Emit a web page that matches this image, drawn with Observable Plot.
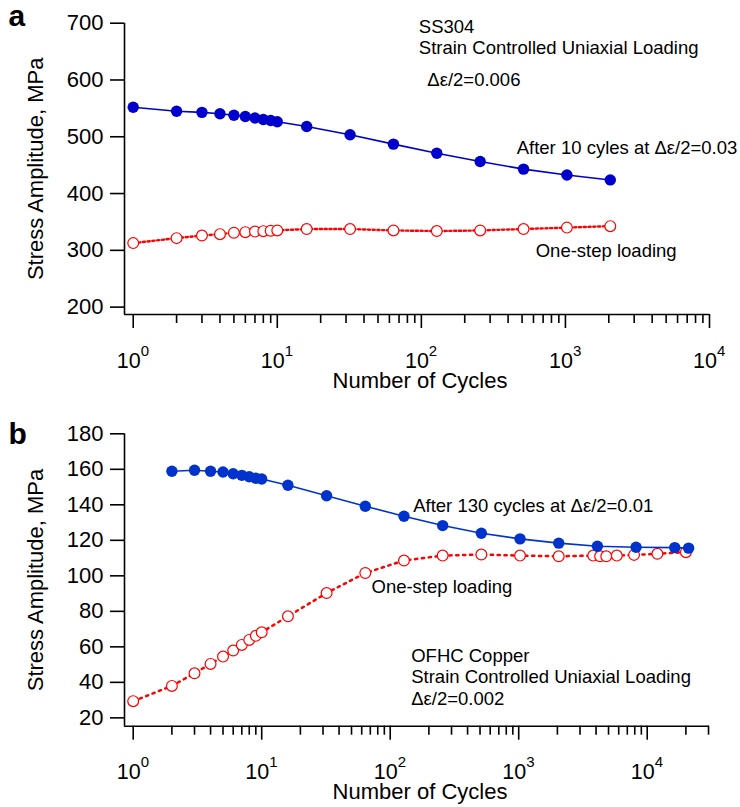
<!DOCTYPE html>
<html>
<head>
<meta charset="utf-8">
<script src="https://cdn.jsdelivr.net/npm/d3@7"></script>
<script src="https://cdn.jsdelivr.net/npm/@observablehq/plot@0.6"></script>
<style>
  html, body { margin: 0; padding: 0; background: white; }
  #chart { width: 740px; }
  #chart svg { display: block; }
</style>
</head>
<body>
<div id="chart"></div>
<script>
// ---------- Panel a: SS304 ----------
const cyclesA = [1, 2, 3, 4, 5, 6, 7, 8, 9, 10, 16, 32, 64, 128, 256, 512, 1024, 2048];
const afterA = [552, 545, 543, 540.5, 538, 535.7, 533, 530.5, 528.7, 526.4, 518, 503.5, 487, 471, 456.5, 443, 432.6, 424];
const oneStepA = [312.7, 321.5, 326, 328.5, 331, 332, 333, 333.8, 334.5, 335, 337.5, 337.5, 335, 334, 335, 337.5, 340, 342.6];
const yTicksA = [200, 300, 400, 500, 600, 700];

// ---------- Panel b: OFHC Copper ----------
const cyclesAfterB = [2, 3, 4, 5, 6, 7, 8, 9, 10, 16, 32, 64, 128, 256, 512, 1024, 2048, 4096, 8192, 16384, 21000];
const afterB = [158.9, 159.5, 158.9, 158.5, 157.5, 156.6, 155.8, 155, 154.5, 151, 145.1, 139.2, 133.6, 128.3, 124, 120.8, 118.4, 116.7, 116.1, 115.9, 115.6];
const cyclesOneStepB = [1, 2, 3, 4, 5, 6, 7, 8, 9, 10, 16, 32, 64, 128, 256, 512, 1024, 2048, 3800, 4300, 4800, 5800, 7900, 12000, 20000];
const oneStepB = [29.4, 38, 45.1, 50.4, 54.5, 57.9, 61.1, 63.9, 66.2, 68.2, 77.2, 90.3, 101.6, 108.6, 111.4, 112, 111.4, 111, 111.4, 111, 111, 111.4, 111.8, 112.4, 113.3];
const yTicksB = [20, 40, 60, 80, 100, 120, 140, 160, 180];

const decades = [1, 10, 100, 1000, 10000];
const xTitle = "Number of Cycles";
const yTitle = "Stress Amplitude, MPa";

const FONT = "'Liberation Sans', Arial, Helvetica, sans-serif";

function minorTicks(max) {
  const out = [];
  for (let p = 0; p <= 4; p++) for (let m = 2; m <= 9; m++) {
    const v = m * Math.pow(10, p);
    if (v <= max) out.push(v);
  }
  return out;
}

function note(text, x, y, extra = {}) {
  return Plot.text([text], {x, y, text: d => d, textAnchor: "start", lineAnchor: "bottom",
    fontSize: 18.5, fill: "black", ...extra});
}

function panel(cfg) {
  const xMin = cfg.xDomain[0], xMax = cfg.xDomain[1];
  const yMin = cfg.yDomain[0];
  return Plot.plot({
    width: 740,
    height: cfg.height,
    marginLeft: 124,
    marginRight: 31,
    marginTop: cfg.marginTop,
    marginBottom: cfg.marginBottom,
    style: {fontFamily: FONT, background: "white", color: "black", overflow: "visible"},
    x: {type: "log", domain: cfg.xDomain},
    y: {domain: cfg.yDomain},
    marks: [
      // axis lines (left and bottom)
      Plot.ruleX([xMin], {stroke: "black", strokeWidth: 1.6}),
      Plot.ruleY([yMin], {stroke: "black", strokeWidth: 1.6}),
      // y axis
      Plot.axisY({ticks: cfg.yTicks, tickSize: 14, tickPadding: 7, fontSize: 22, strokeWidth: 1.6,
        tickFormat: d => String(d), label: null}),
      // x axis major & minor ticks
      Plot.axisX({ticks: decades, tickSize: 14, strokeWidth: 1.6, tickFormat: () => "", label: null}),
      Plot.axisX({ticks: minorTicks(xMax), tickSize: 9, strokeWidth: 1.6, tickFormat: () => "", label: null}),
      // x tick labels 10^n
      Plot.text(decades, {x: d => d, text: () => "10", frameAnchor: "bottom", textAnchor: "end",
        lineAnchor: "bottom", dx: 7.5, dy: 53, fontSize: 21.5}),
      Plot.text(decades, {x: d => d, text: d => String(Math.round(Math.log10(d))), frameAnchor: "bottom",
        textAnchor: "start", lineAnchor: "bottom", dx: 7.5, dy: 41, fontSize: 15}),
      // axis titles
      Plot.text([xTitle], {text: d => d, frameAnchor: "bottom", textAnchor: "middle", lineAnchor: "bottom",
        dx: 3, dy: cfg.xTitleDy, fontSize: 22}),
      Plot.text([yTitle], {text: d => d, frameAnchor: "left", textAnchor: "middle", rotate: -90,
        lineAnchor: "middle", dx: -89, fontSize: 22}),
      // panel letter
      Plot.text([cfg.letter], {text: d => d, frameAnchor: "top-left", textAnchor: "start", lineAnchor: "bottom",
        dx: -116, dy: cfg.letterDy, fontSize: 30, fontWeight: "bold"}),
      // one-step loading (red, dotted, open circles)
      Plot.line(cfg.oneY, {x: cfg.oneX, y: cfg.oneY, stroke: "#ff0000", strokeWidth: cfg.dotW,
        strokeDasharray: cfg.dash, curve: "linear"}),
      Plot.dot(cfg.oneY, {x: cfg.oneX, y: cfg.oneY, r: 5.4, fill: "white", stroke: "#ff0000", strokeWidth: 1.2}),
      // after pre-cycling (blue, solid, filled circles)
      Plot.line(cfg.afterY, {x: cfg.afterX, y: cfg.afterY, stroke: cfg.blue, strokeWidth: 1.6}),
      Plot.dot(cfg.afterY, {x: cfg.afterX, y: cfg.afterY, r: 5.7, fill: cfg.blue, stroke: "none"}),
      ...cfg.notes
    ]
  });
}

const chartA = panel({
  letter: "a",
  height: 400, marginTop: 22.7, marginBottom: 86,
  xDomain: [0.870, 10000], yDomain: [187, 700], yTicks: yTicksA,
  xTitleDy: 73, letterDy: 2.5,
  oneX: cyclesA, oneY: oneStepA, afterX: cyclesA, afterY: afterA,
  blue: "#0000cc", dotW: 2.4, dash: "2.2,2.6",
  notes: [
    note("SS304", 96, 682),
    note("Strain Controlled Uniaxial Loading", 96, 646),
    note("Δε/2=0.006", 110, 590),
    note("After 10 cyles at Δε/2=0.03", 459, 470),
    note("One-step loading", 622, 289)
  ]
});

const chartB = panel({
  letter: "b",
  height: 407, marginTop: 33.3, marginBottom: 81.3,
  xDomain: [0.8556, 30530], yDomain: [15.3, 180], yTicks: yTicksB,
  xTitleDy: 73, letterDy: 9.7,
  oneX: cyclesOneStepB, oneY: oneStepB, afterX: cyclesAfterB, afterY: afterB,
  blue: "#0033cc", dotW: 2.5, dash: "2.3,4.6",
  notes: [
    note("After 130 cycles at Δε/2=0.01", 151, 136.2),
    note("One-step loading", 71.5, 90.6),
    note("OFHC Copper", 145.7, 51.2),
    note("Strain Controlled Uniaxial Loading", 145.7, 39.4),
    note("Δε/2=0.002", 145.7, 27)
  ]
});

const root = document.getElementById("chart");
root.appendChild(chartA);
root.appendChild(chartB);
</script>
</body>
</html>
